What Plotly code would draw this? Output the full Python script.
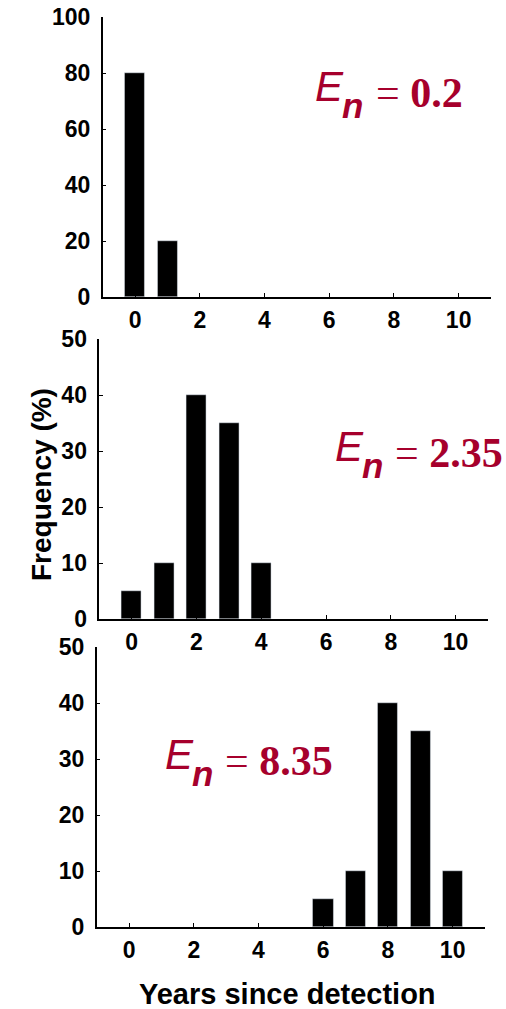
import plotly.graph_objects as go

# ---- data ----
years1 = [0, 1]
freq1 = [80, 20]
years2 = [0, 1, 2, 3, 4]
freq2 = [5, 10, 40, 35, 10]
years3 = [6, 7, 8, 9, 10]
freq3 = [5, 10, 40, 35, 10]
en_labels = ["0.2", "2.35", "8.35"]
x_ticks = [0, 2, 4, 6, 8, 10]
y_ticks1 = [0, 20, 40, 60, 80, 100]
y_ticks23 = [0, 10, 20, 30, 40, 50]

W, H = 506, 1009
SANS = "Liberation Sans, Arial, sans-serif"
SERIF = "Liberation Serif, Times New Roman, serif"
RED = "#A6002C"

def px(x):
    return x / W

def py(y):
    return 1 - y / H

fig = go.Figure()
fig.add_trace(go.Bar(x=years1, y=freq1, xaxis="x", yaxis="y", marker_color="black", width=0.62))
fig.add_trace(go.Bar(x=years2, y=freq2, xaxis="x2", yaxis="y2", marker_color="black", width=0.62))
fig.add_trace(go.Bar(x=years3, y=freq3, xaxis="x3", yaxis="y3", marker_color="black", width=0.62))

tickfont = dict(family=SANS, size=23, color="black", weight="bold")
common_x = dict(range=[-1, 11], tickvals=x_ticks, ticks="inside", ticklen=4, tickwidth=1,
                tickcolor="black", showline=True, linecolor="black", linewidth=1.5,
                showgrid=False, zeroline=False, tickfont=tickfont, ticklabelstandoff=2)
common_y = dict(ticks="inside", ticklen=4, tickwidth=1, tickcolor="black", showline=True,
                linecolor="black", linewidth=1.5, showgrid=False, zeroline=False,
                tickfont=tickfont, ticklabelstandoff=6)

panels = [
    # (x_left, x_right, y_top, y_bottom) in pixels
    (102.7, 491, 17, 297),
    (99.3, 488, 339, 619),
    (96.7, 485, 647, 927),
]

layout = dict(width=W, height=H, margin=dict(l=0, r=0, t=0, b=0, autoexpand=False),
              plot_bgcolor="white", paper_bgcolor="white", showlegend=False, bargap=0)
for i, (xl, xr, yt, yb) in enumerate(panels):
    s = "" if i == 0 else str(i + 1)
    layout["xaxis" + s] = dict(common_x, domain=[px(xl), px(xr)], anchor="y" + s)
    if i == 0:
        layout["yaxis" + s] = dict(common_y, domain=[py(yb), py(yt)], anchor="x" + s,
                                   range=[0, 100], tickvals=y_ticks1)
    else:
        layout["yaxis" + s] = dict(common_y, domain=[py(yb), py(yt)], anchor="x" + s,
                                   range=[0, 50], tickvals=y_ticks23)
fig.update_layout(**layout)

# E_n labels: (left x of E, baseline of E) in pixels
en_pos = [(317.3, 101), (336.7, 461), (166.7, 769)]
for (x0, b), val in zip(en_pos, en_labels):
    fig.add_annotation(text="<i>E</i>", xref="paper", yref="paper",
                       x=px(x0 - 4), y=py(b + 10.9), xanchor="left", yanchor="bottom",
                       showarrow=False, font=dict(family=SANS, size=42, color=RED))
    fig.add_annotation(text="<b><i>n</i></b>", xref="paper", yref="paper",
                       x=px(x0 + 23), y=py(b + 26.4), xanchor="left", yanchor="bottom",
                       showarrow=False, font=dict(family=SANS, size=35, color=RED))
    fig.add_annotation(text=f"= <b>{val}</b>", xref="paper", yref="paper",
                       x=px(x0 + 56.5), y=py(b + 16.8), xanchor="left", yanchor="bottom",
                       showarrow=False, font=dict(family=SERIF, size=42, color=RED))

fig.add_annotation(text="<b>Frequency (%)</b>", xref="paper", yref="paper", x=px(41), y=py(485),
                   textangle=-90, showarrow=False, xanchor="center", yanchor="middle",
                   font=dict(family=SANS, size=28, color="black"))
fig.add_annotation(text="<b>Years since detection</b>", xref="paper", yref="paper",
                   x=px(287.4), y=py(994), showarrow=False, xanchor="center", yanchor="middle",
                   font=dict(family=SANS, size=29, color="black"))

fig.write_html("out.html")
